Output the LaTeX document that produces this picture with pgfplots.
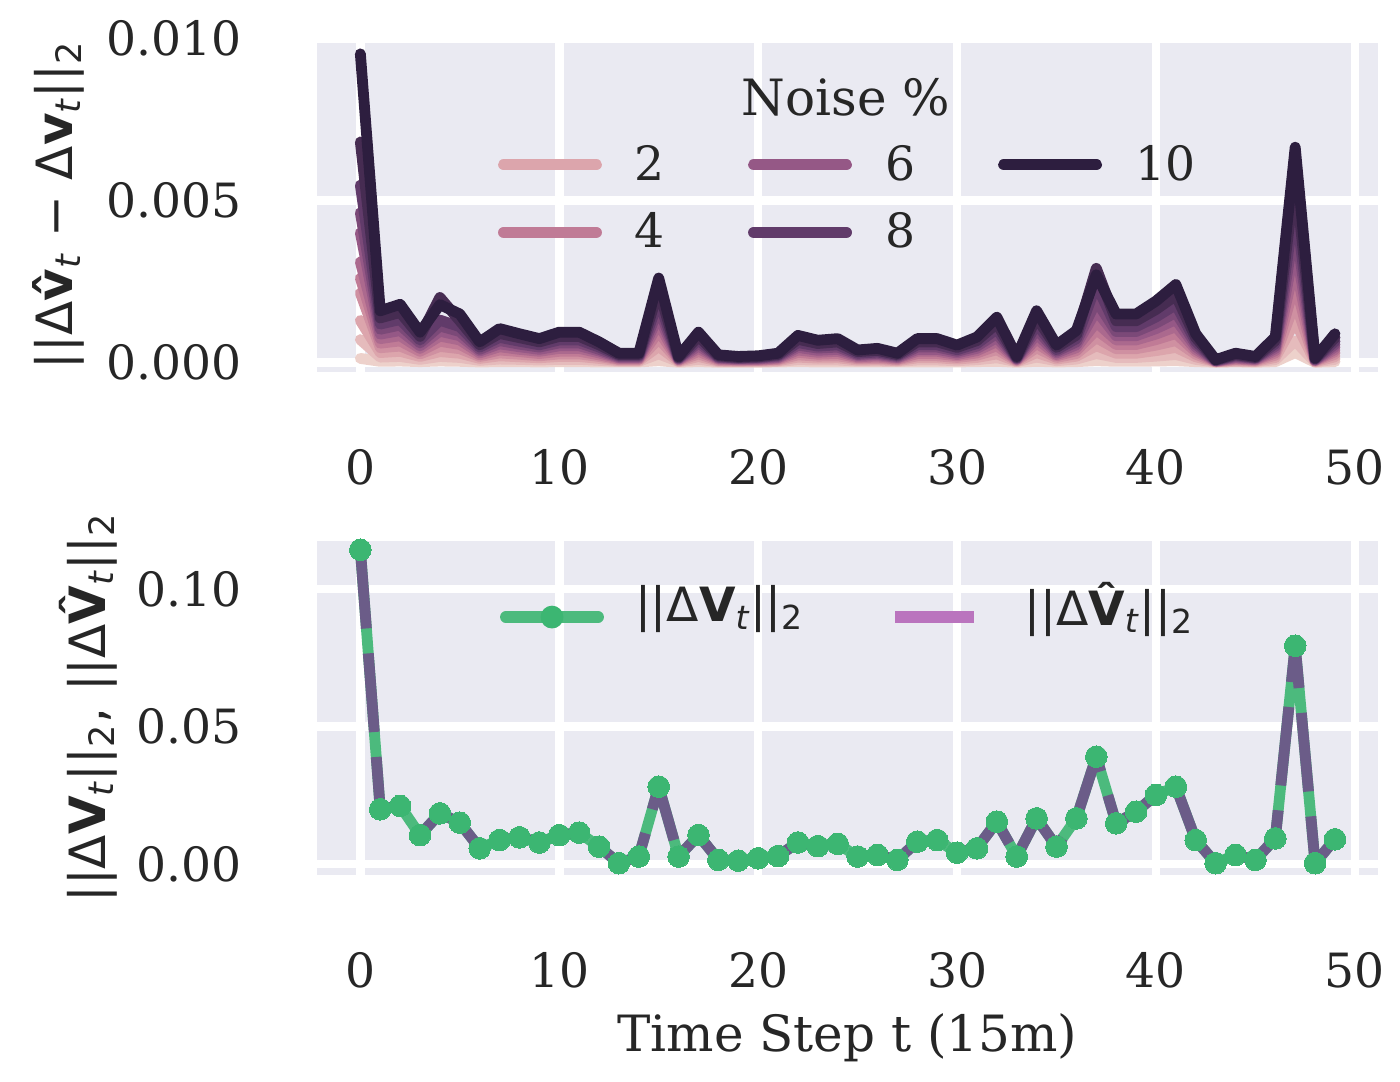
\documentclass[border=0pt]{standalone}
\usepackage{pgfplots}
\pgfplotsset{compat=1.18}
\usepackage{pgfplotstable}
\usepackage{fontspec}
\setmainfont{DejaVu Serif}
\newfontfamily\dsans{DejaVu Sans}
\definecolor{bgc}{HTML}{EAEAF2}
\definecolor{tcol}{HTML}{262626}
\definecolor{c0}{HTML}{EDD1CB}
\definecolor{c1}{HTML}{E5BBBC}
\definecolor{c2}{HTML}{DCA5AC}
\definecolor{c3}{HTML}{CF90A1}
\definecolor{c4}{HTML}{C07B96}
\definecolor{c5}{HTML}{AB698E}
\definecolor{c6}{HTML}{955886}
\definecolor{c7}{HTML}{7B4978}
\definecolor{c8}{HTML}{613B6A}
\definecolor{c9}{HTML}{462C52}
\definecolor{c10}{HTML}{2D1E3F}
\definecolor{gline}{HTML}{4CBA7D}
\definecolor{gmark}{HTML}{3CB672}
\definecolor{pline}{HTML}{6B5C88}
\definecolor{plegend}{HTML}{BA74BE}

\pgfplotstableread{
t n0 n1 n2 n3 n4 n5 n6 n7 n8 n9 n10
0 1.2 7.0 12.9 21.4 26.0 31.0 40.0 46.2 54.7 68.0 95.2
1 0.3 1.6 3.0 4.5 5.9 7.3 8.7 10.2 11.8 13.7 15.9
2 0.4 1.8 3.4 5.0 6.6 8.2 9.8 11.5 13.2 15.4 17.9
3 0.2 0.9 1.8 2.6 3.4 4.3 5.1 6.0 6.9 8.0 9.3
4 0.4 1.8 3.3 4.9 6.5 8.1 9.6 11.2 13.0 20.0 17.8
5 0.3 1.5 2.8 4.2 5.5 6.9 8.2 9.5 11.0 12.8 14.9
6 0.1 0.6 1.2 1.8 2.3 2.9 3.5 4.0 4.7 5.4 6.3
7 0.2 1.0 2.0 2.9 3.8 4.8 5.7 6.7 7.7 8.9 10.4
8 0.2 0.9 1.7 2.5 3.3 4.0 4.8 5.6 6.5 7.6 8.8
9 0.1 0.7 1.4 2.0 2.7 3.4 4.0 4.7 5.4 6.3 7.3
10 0.2 0.9 1.8 2.6 3.4 4.3 5.1 6.0 6.9 8.0 9.3
11 0.2 0.9 1.8 2.6 3.4 4.3 5.1 6.0 6.9 8.0 9.3
12 0.1 0.6 1.2 1.8 2.3 2.9 3.5 4.0 4.7 5.4 6.3
13 0.1 0.3 0.5 0.8 1.0 1.3 1.5 1.8 2.1 2.4 2.8
14 0.1 0.3 0.5 0.8 1.0 1.3 1.5 1.8 2.1 2.4 2.8
15 0.5 2.6 4.9 7.3 9.6 12.0 14.3 16.6 19.2 22.4 26.0
16 0.0 0.2 0.3 0.5 0.7 0.8 1.0 1.2 1.3 1.5 1.8
17 0.2 0.9 1.8 2.6 3.4 4.3 5.1 6.0 6.9 8.0 9.3
18 0.0 0.2 0.4 0.6 0.9 1.1 1.3 1.5 1.7 2.0 2.3
19 0.0 0.2 0.3 0.5 0.7 0.8 1.0 1.2 1.3 1.5 1.8
20 0.0 0.2 0.4 0.6 0.7 0.9 1.1 1.3 1.5 1.7 2.0
21 0.1 0.3 0.5 0.8 1.0 1.3 1.5 1.8 2.1 2.4 2.8
22 0.2 0.8 1.6 2.3 3.1 3.8 4.6 5.3 6.1 7.1 8.3
23 0.1 0.7 1.3 1.9 2.5 3.1 3.7 4.4 5.0 5.8 6.8
24 0.1 0.7 1.4 2.0 2.7 3.4 4.0 4.7 5.4 6.3 7.3
25 0.1 0.4 0.7 1.1 1.4 1.7 2.1 2.4 2.8 3.3 3.8
26 0.1 0.4 0.8 1.2 1.6 2.0 2.4 2.8 3.2 3.7 4.3
27 0.1 0.3 0.5 0.8 1.0 1.3 1.5 1.8 2.1 2.4 2.8
28 0.1 0.7 1.4 2.0 2.7 3.4 4.0 4.7 5.4 6.3 7.3
29 0.1 0.7 1.4 2.0 2.7 3.4 4.0 4.7 5.4 6.3 7.3
30 0.1 0.5 1.0 1.5 2.0 2.4 2.9 3.4 3.9 4.6 5.3
31 0.2 0.8 1.5 2.2 2.9 3.6 4.3 5.0 5.8 6.7 7.8
32 0.3 1.4 2.6 3.9 5.1 6.4 7.6 8.9 10.3 12.0 13.9
33 0.0 0.2 0.3 0.5 0.7 0.8 1.0 1.2 1.3 1.5 1.8
34 0.3 1.6 3.0 4.5 5.9 7.3 8.7 10.2 11.8 13.7 15.9
35 0.1 0.5 1.0 1.5 2.0 2.4 2.9 3.4 3.9 4.6 5.3
36 0.2 1.0 1.9 2.7 3.6 4.5 5.4 6.3 7.3 8.4 9.8
37 0.5 2.7 5.1 7.6 10.0 12.4 16.0 19.0 24.0 29.0 27.0
38 0.3 1.5 2.8 4.2 5.5 6.9 8.2 9.5 11.0 12.8 14.9
39 0.3 1.5 2.8 4.2 5.5 6.9 8.2 9.5 11.0 12.8 14.9
40 0.4 1.9 3.6 5.3 7.0 8.7 10.4 12.1 14.0 16.3 18.9
41 0.5 2.4 4.6 6.7 8.9 11.0 13.2 15.4 17.8 20.6 24.0
42 0.2 0.9 1.7 2.5 3.3 4.0 4.8 5.6 6.5 7.6 8.8
43 0.0 0.1 0.2 0.2 0.3 0.4 0.4 0.5 0.6 0.7 0.8
44 0.1 0.3 0.5 0.8 1.0 1.3 1.5 1.8 2.1 2.4 2.8
45 0.0 0.2 0.3 0.5 0.7 0.8 1.0 1.2 1.3 1.5 1.8
46 0.2 0.8 1.5 2.2 2.9 3.6 4.3 5.0 5.8 6.7 7.8
47 3.0 6.6 12.6 18.6 24.6 30.5 36.5 42.5 49.1 57.1 66.4
48 0.0 0.1 0.2 0.4 0.5 0.6 0.7 0.8 1.0 1.1 1.3
49 0.2 0.9 1.7 2.5 3.3 4.0 4.8 5.6 6.5 7.6 8.8
}\errtab

\pgfplotstableread{
t v
0 0.1142
1 0.0199
2 0.0211
3 0.0105
4 0.0184
5 0.0150
6 0.0057
7 0.0087
8 0.0097
9 0.0078
10 0.0105
11 0.0114
12 0.0063
13 0.0003
14 0.0027
15 0.0281
16 0.0027
17 0.0105
18 0.0015
19 0.0012
20 0.0021
21 0.0029
22 0.0078
23 0.0065
24 0.0073
25 0.0027
26 0.0033
27 0.0015
28 0.0081
29 0.0087
30 0.0041
31 0.0057
32 0.0154
33 0.0027
34 0.0166
35 0.0063
36 0.0166
37 0.0390
38 0.0148
39 0.0190
40 0.0251
41 0.0281
42 0.0087
43 0.0003
44 0.0033
45 0.0015
46 0.0093
47 0.0793
48 0.0003
49 0.0090
}\vtab

\pgfplotsset{
  sbstyle/.style={
    scale only axis,
    width=382.0pt,
    xmin=-2.19, xmax=51.16,
    axis background/.style={fill=bgc},
    axis line style={draw=none},
    grid=major,
    major grid style={white, line width=3.06pt},
    major tick length=0pt,
    xtick={0,10,20,30,40,50},
    xticklabels={0,10,20,30,40,50},
    tick label style={font=\fontsize{17}{20}\selectfont, text=tcol},
    xticklabel style={anchor=center, yshift=-34.3pt},
    yticklabel style={anchor=east, inner sep=0pt, xshift=-26.9pt},
    legend style={draw=none, fill=none, inner sep=0pt, outer sep=0pt,
      font=\fontsize{17}{20}\selectfont, text=tcol,
      nodes={inner sep=0pt}},
  },
}

\begin{document}
\begin{tikzpicture}
\path[use as bounding box] (0pt,0pt) rectangle (504pt,389.16pt);

\begin{axis}[sbstyle,
  at={(114.05pt,255.35pt)}, anchor=south west,
  height=120.02pt,
  ymin=-2.9, ymax=100,
  ytick={0,50,100},
  yticklabels={0.000,0.005,0.010},
  ylabel={\dsans ||Δ\textbf{\^v}\textsubscript{\itshape t} − Δ\textbf{v}\textsubscript{\itshape t}||\textsubscript{2}},
  every axis y label/.style={at={(axis description cs:-0.2439,0.5)}, rotate=90, anchor=center,
    font=\fontsize{18}{21}\selectfont, text=tcol},
  legend columns=3,
  legend style={at={(axis description cs:0.1708,0.680)}, anchor=north west,
    row sep=10.3pt,
    /tikz/every odd column/.style={column sep=11.9pt},
    /tikz/every even column/.style={column sep=29.9pt}},
  legend image code/.code={\draw[#1] (0pt,0pt) -- (33.2pt,0pt);},
]
\addplot[forget plot, c0, line width=3.9pt, line join=round, line cap=round] table[x=t,y=n0]{\errtab};
\addplot[forget plot, c1, line width=3.9pt, line join=round, line cap=round] table[x=t,y=n1]{\errtab};
\addplot[forget plot, c2, line width=3.9pt, line join=round, line cap=round] table[x=t,y=n2]{\errtab};
\addplot[forget plot, c3, line width=3.9pt, line join=round, line cap=round] table[x=t,y=n3]{\errtab};
\addplot[forget plot, c4, line width=3.9pt, line join=round, line cap=round] table[x=t,y=n4]{\errtab};
\addplot[forget plot, c5, line width=3.9pt, line join=round, line cap=round] table[x=t,y=n5]{\errtab};
\addplot[forget plot, c6, line width=3.9pt, line join=round, line cap=round] table[x=t,y=n6]{\errtab};
\addplot[forget plot, c7, line width=3.9pt, line join=round, line cap=round] table[x=t,y=n7]{\errtab};
\addplot[forget plot, c8, line width=3.9pt, line join=round, line cap=round] table[x=t,y=n8]{\errtab};
\addplot[forget plot, c9, line width=3.9pt, line join=round, line cap=round] table[x=t,y=n9]{\errtab};
\addplot[forget plot, c10, line width=3.9pt, line join=round, line cap=round] table[x=t,y=n10]{\errtab};
\addlegendimage{c2, line width=4.2pt, line cap=round}
\addlegendentry{2}
\addlegendimage{c6, line width=4.2pt, line cap=round}
\addlegendentry{6}
\addlegendimage{c10, line width=4.2pt, line cap=round}
\addlegendentry{10}
\addlegendimage{c4, line width=4.2pt, line cap=round}
\addlegendentry{4}
\addlegendimage{c8, line width=4.2pt, line cap=round}
\addlegendentry{8}
\node[font=\fontsize{18}{21}\selectfont, text=tcol, inner sep=0pt] at (axis description cs:0.4988,0.824) {Noise \%};
\end{axis}

\begin{axis}[sbstyle,
  at={(114.05pt,74.16pt)}, anchor=south west,
  height=120.35pt,
  ymin=-0.004, ymax=0.1175,
  ytick={0,0.05,0.10},
  yticklabels={0.00,0.05,0.10},
  xlabel={Time Step t (15m)},
  every axis x label/.style={at={(axis description cs:0.5,0)}, anchor=center, yshift=-58.7pt,
    font=\fontsize{18}{21}\selectfont, text=tcol},
  ylabel={\dsans ||Δ\textbf{V}\textsubscript{\itshape t}||\textsubscript{2}, ||Δ\textbf{\^V}\textsubscript{\itshape t}||\textsubscript{2}},
  every axis y label/.style={at={(axis description cs:-0.2156,0.5)}, rotate=90, anchor=center,
    font=\fontsize{18}{21}\selectfont, text=tcol},
  legend columns=2,
  legend style={at={(axis description cs:0.1727,0.8765)}, anchor=north west,
    /tikz/every odd column/.style={column sep=11.2pt},
    /tikz/every even column/.style={column sep=30.6pt}},
]
\addplot[forget plot, gline, line width=3.9pt, line join=round,
  mark=*, mark size=3.9pt, mark options={solid, fill=gmark, draw=gmark, line width=0pt}]
  table[x=t,y=v]{\vtab};
\addplot[forget plot, pline, line width=3.9pt, line join=round, dash pattern=on 28.4pt off 9pt]
  table[x=t,y=v]{\vtab};
\addlegendimage{legend image code/.code={\draw[gline, line width=4.2pt, line cap=round] (0pt,-4pt) -- (33.2pt,-4pt); \fill[gmark] (16.6pt,-4pt) circle (3.9pt);}}
\addlegendentry{\dsans ||Δ\textbf{V}\textsubscript{\itshape t}||\textsubscript{2}}
\addlegendimage{legend image code/.code={\draw[plegend, line width=4.2pt, dash pattern=on 28.4pt off 10pt] (0pt,-4pt) -- (33.2pt,-4pt);}}
\addlegendentry{\dsans ||Δ\textbf{\^V}\textsubscript{\itshape t}||\textsubscript{2}}
\end{axis}
\end{tikzpicture}
\end{document}
